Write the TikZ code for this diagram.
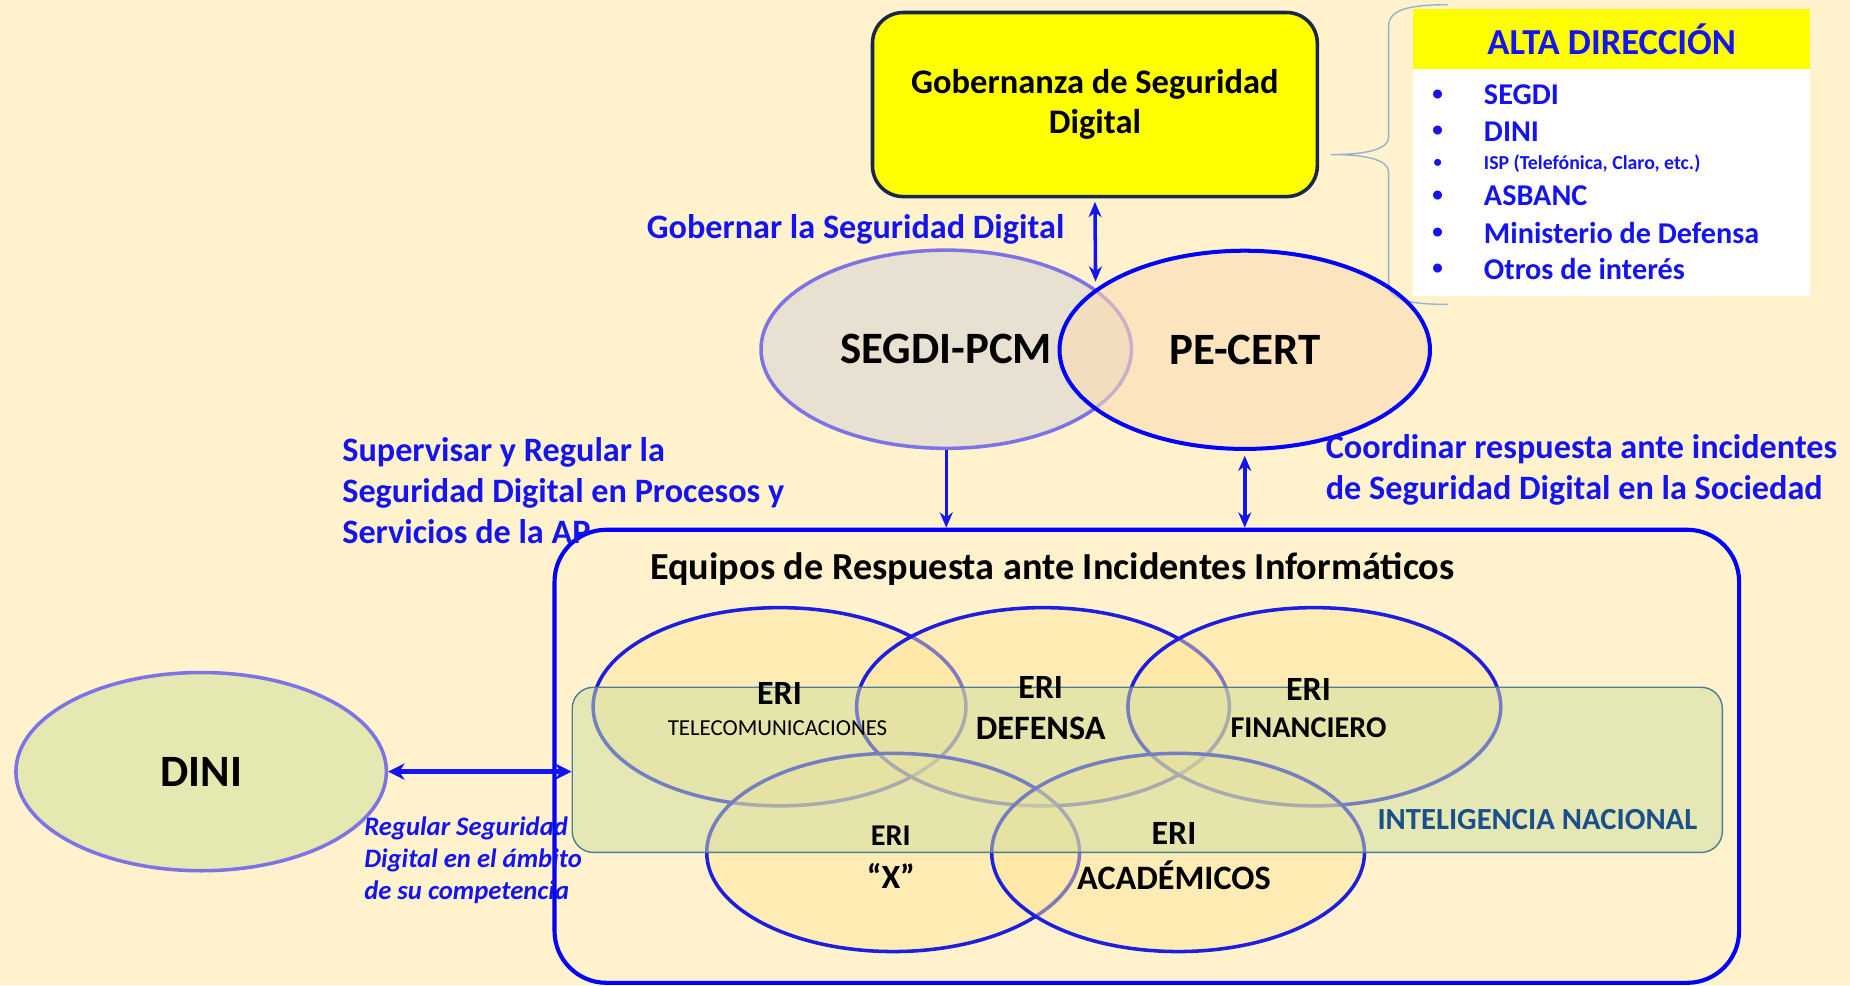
\documentclass[tikz,border=0pt]{standalone}
\usepackage{fontspec}
\setmainfont{Carlito}
\usetikzlibrary{arrows.meta,shapes.geometric,calc}

\definecolor{bgcream}{RGB}{255,242,204}
\definecolor{txtblue}{RGB}{20,20,240}
\definecolor{ringblue}{RGB}{30,30,225}
\definecolor{lavender}{RGB}{125,115,230}
\definecolor{govyellow}{RGB}{255,255,0}
\definecolor{govnavy}{RGB}{25,40,70}
\definecolor{segdifill}{RGB}{232,224,208}
\definecolor{certfill}{RGB}{250,219,181}
\definecolor{erifill}{RGB}{255,229,153}
\definecolor{intelfill}{RGB}{205,222,160}
\definecolor{inteledge}{RGB}{80,125,150}
\definecolor{inteltext}{RGB}{25,80,140}
\definecolor{dinifill}{RGB}{230,232,178}
\definecolor{bracegray}{RGB}{150,180,205}

\tikzset{every picture/.style={line width=0.75pt}}
\tikzset{
  bluelabel/.style={anchor=west,inner sep=0pt,text=txtblue,align=left,font=\fontsize{14.5}{17.4}\selectfont\bfseries},
  listitem/.style={anchor=west,inner sep=0pt,text=txtblue,font=\fontsize{12.8}{15}\selectfont\bfseries},
  bulletdot/.style={inner sep=0pt,text=txtblue,font=\fontsize{9}{10}\selectfont\bfseries},
  bigring/.style={ellipse,inner sep=0pt,minimum width=157pt,minimum height=84pt,line width=1.5pt,text opacity=1,font=\fontsize{19}{22}\selectfont\bfseries},
  eriring/.style={ellipse,inner sep=0pt,minimum width=158pt,minimum height=84pt,draw=ringblue,line width=1.5pt,fill=erifill,fill opacity=0.45},
  eritext/.style={inner sep=0pt,font=\fontsize{14.4}{16}\selectfont\bfseries},
  linkarrow/.style={draw=txtblue,line width=1.5pt},
  tipA/.tip={Stealth[length=6.5pt,width=5.5pt]},
}

\begin{document}
\begin{tikzpicture}[x=0.5pt,y=0.5pt,yscale=-1,xscale=1]
%set diagram to the size of the slide
\fill[bgcream] (0,0) rectangle (1568,835);
\useasboundingbox (0,0) rectangle (1568,835);

%Shape: Brace
\draw [bracegray, line width=0.6pt] (1227,4) .. controls (1195,4) and (1177,8) .. (1177,22) -- (1177,116) .. controls (1177,126) and (1160,131) .. (1128,131) .. controls (1160,131) and (1177,136) .. (1177,146) -- (1177,242) .. controls (1177,254) and (1195,258) .. (1227,258);
%Shape: Rectangle
\draw (1366,154.5) node (panel) [fill=white, minimum width=168pt, minimum height=96pt] {};
%Shape: Rectangle
\draw (1366,33) node (panelhead) [fill=govyellow, minimum width=168pt, minimum height=25.75pt, text=txtblue, font=\fontsize{15.5}{18}\selectfont\bfseries] {ALTA DIRECCIÓN};

% Text Node
\draw (1218.6,80.5) node (b1) [bulletdot] {•};
\draw (1257,80.5) node (segdiitem) [listitem] {SEGDI};
% Text Node
\draw (1218.6,111.6) node (b2) [bulletdot] {•};
\draw (1257,111.6) node (diniitem) [listitem] {DINI};
% Text Node
\draw (1218.6,138.4) node (b3) [bulletdot, font=\fontsize{7}{8}\selectfont\bfseries] {•};
\draw (1257,138.4) node (ispitem) [listitem, font=\fontsize{8.4}{10}\selectfont\bfseries] {ISP (Telefónica, Claro, etc.)};
% Text Node
\draw (1218.6,166) node (b4) [bulletdot] {•};
\draw (1257,166) node (asbancitem) [listitem] {ASBANC};
% Text Node
\draw (1218.6,197.7) node (b5) [bulletdot] {•};
\draw (1257,197.7) node (mindefitem) [listitem] {Ministerio de Defensa};
% Text Node
\draw (1218.6,228) node (b6) [bulletdot] {•};
\draw (1257,228) node (otrositem) [listitem] {Otros de interés};

%Shape: Rounded Rect
\draw (928,88.6) node (gob) [draw=govnavy, line width=1.5pt, fill=govyellow, rounded corners=13pt, minimum width=188.5pt, minimum height=78pt, align=center, font=\fontsize{14.6}{17}\selectfont\bfseries] {Gobernanza de Seguridad\\Digital};

%Shape: Ellipse
\draw (802,296) node (segdi) [bigring, draw=lavender, fill=segdifill] {SEGDI-PCM};
%Shape: Ellipse
\draw (1055,296.5) node (cert) [bigring, draw=blue, line width=1.7pt, fill=certfill, fill opacity=0.6] {PE-CERT};

%Shape: Rounded Rect
\draw (972,641) node (equipos) [draw=blue, line width=1.75pt, rounded corners=22pt, minimum width=502pt, minimum height=192pt] {};

%Shape: Ellipse
\draw (660.7,599) node (tel) [eriring] {};
\draw (884,599) node (def) [eriring] {};
\draw (1114,599) node (fin) [eriring] {};
\draw (757,722.5) node (xeri) [eriring] {};
\draw (998.5,722.5) node (acad) [eriring] {};

%Shape: Rounded Rect
\draw (972.4,652.5) node (intel) [draw=inteledge, line width=0.6pt, fill=intelfill, fill opacity=0.5, rounded corners=9pt, minimum width=487.4pt, minimum height=70pt] {};

%Shape: Ellipse
\draw (170.5,654) node (dini) [bigring, draw=lavender, fill=dinifill] {DINI};

%Straight Lines
\coordinate (meet) at (928.6,238.7);
\draw [linkarrow, tipA-tipA, shorten <=1.5pt] (gob.south) -- (meet);
%Straight Lines
\draw [linkarrow, line width=1.3pt, -tipA] (segdi.south) -- (segdi.south |- equipos.north);
%Straight Lines
\draw [linkarrow, tipA-tipA, shorten <=2pt] (cert.south) -- (cert.south |- equipos.north);
%Straight Lines
\draw [linkarrow, line width=2.2pt, {Stealth[length=7pt,width=7pt]}-{Stealth[length=7pt,width=7pt]}] (dini.east) -- (dini.east -| intel.west);

% Text Node
\draw (547.5,194.3) node (gobernar) [bluelabel] {Gobernar la Seguridad Digital};
% Text Node
\draw (289.4,416) node (supervisar) [bluelabel] {Supervisar y Regular la\\Seguridad Digital en Procesos y\\Servicios de la AP};
% Text Node
\draw (1123,398) node (coordinar) [bluelabel] {Coordinar respuesta ante incidentes\\de Seguridad Digital en la Sociedad};
% Text Node
\draw (308,729) node (regular) [bluelabel, font=\fontsize{11.3}{13.4}\selectfont\bfseries\itshape] {Regular Seguridad\\Digital en el ámbito\\de su competencia};
% Text Node
\draw (892,482.7) node (equipostitle) [inner sep=0pt, font=\fontsize{16.2}{19}\selectfont\bfseries] {Equipos de Respuesta ante Incidentes Informáticos};
% Text Node
\draw (1303,695) node (inteltitle) [inner sep=0pt, text=inteltext, font=\fontsize{13}{15}\selectfont\bfseries] {INTELIGENCIA NACIONAL};

% Text Node
\draw (660.7,588) node (teleri) [eritext] {ERI};
\draw (659,617) node (telname) [eritext, font=\fontsize{9.7}{11}\selectfont] {TELECOMUNICACIONES};
% Text Node
\draw (882,583) node (deferi) [eritext] {ERI};
\draw (882,617) node (defname) [eritext, font=\fontsize{14.5}{16}\selectfont\bfseries] {DEFENSA};
% Text Node
\draw (1109,584) node (fineri) [eritext] {ERI};
\draw (1109,617) node (finname) [eritext, font=\fontsize{12.8}{15}\selectfont\bfseries] {FINANCIERO};
% Text Node
\draw (755,708) node (xerieri) [eritext, font=\fontsize{12.8}{15}\selectfont\bfseries] {ERI};
\draw (755,742) node (xname) [eritext] {“X”};
% Text Node
\draw (995,706) node (acaderi) [eritext] {ERI};
\draw (995,742) node (acadname) [eritext, font=\fontsize{14.5}{16}\selectfont\bfseries] {ACADÉMICOS};

\end{tikzpicture}
\end{document}
